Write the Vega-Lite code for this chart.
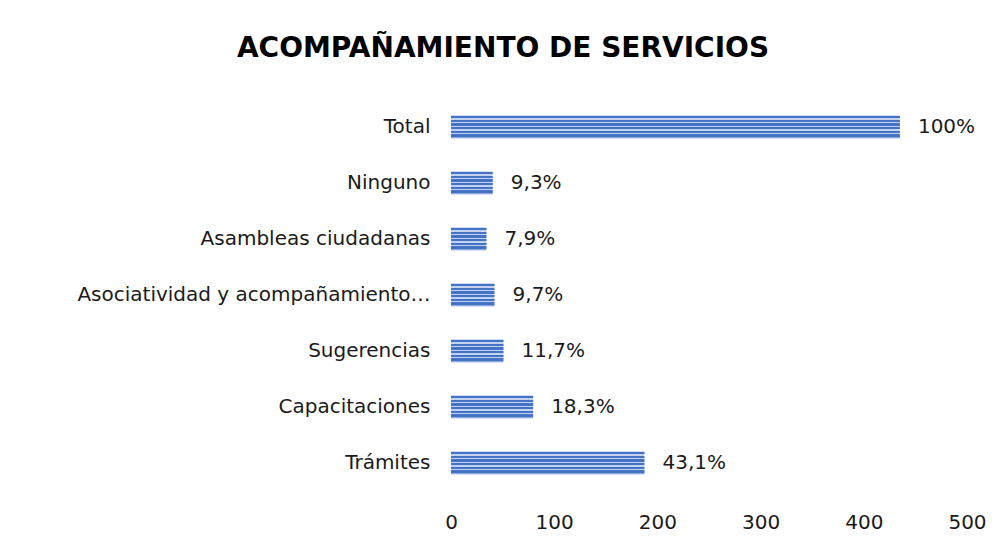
{
  "$schema": "https://vega.github.io/schema/vega-lite/v6.json",
  "width": 516,
  "height": 392,
  "autosize": {"type": "none"},
  "padding": {"left": 451, "top": 99, "right": 27, "bottom": 54},
  "background": "white",
  "title": {
    "text": "ACOMPAÑAMIENTO DE SERVICIOS",
    "font": "DejaVu Sans",
    "fontSize": 28,
    "fontWeight": "bold",
    "color": "#000000",
    "anchor": "middle",
    "frame": "group",
    "dx": -206,
    "offset": 36
  },
  "data": {
    "values": [
      {"categoria": "Total", "valor": 435, "etiqueta": "100%"},
      {"categoria": "Ninguno", "valor": 40.5, "etiqueta": "9,3%"},
      {"categoria": "Asambleas ciudadanas", "valor": 34.4, "etiqueta": "7,9%"},
      {"categoria": "Asociatividad y acompañamiento…", "valor": 42.2, "etiqueta": "9,7%"},
      {"categoria": "Sugerencias", "valor": 50.9, "etiqueta": "11,7%"},
      {"categoria": "Capacitaciones", "valor": 79.6, "etiqueta": "18,3%"},
      {"categoria": "Trámites", "valor": 187.5, "etiqueta": "43,1%"}
    ]
  },
  "encoding": {
    "y": {
      "field": "categoria",
      "type": "nominal",
      "sort": null,
      "scale": {"paddingInner": 0.6, "paddingOuter": 0.3},
      "axis": {
        "title": null,
        "ticks": false,
        "domain": false,
        "labelPadding": 21,
        "labelFont": "DejaVu Sans",
        "labelFontSize": 20,
        "labelColor": "#1a1a1a",
        "labelLimit": 440
      }
    },
    "x": {
      "field": "valor",
      "type": "quantitative",
      "scale": {"domain": [0, 500]},
      "axis": {
        "title": null,
        "values": [0, 100, 200, 300, 400, 500],
        "ticks": false,
        "domain": false,
        "grid": false,
        "labelFlush": false,
        "labelPadding": 21,
        "labelFont": "DejaVu Sans",
        "labelFontSize": 20,
        "labelColor": "#1a1a1a"
      }
    }
  },
  "layer": [
    {
      "mark": {
        "type": "bar",
        "color": {
          "gradient": "linear",
          "x1": 0, "y1": 0, "x2": 0, "y2": 1,
          "stops": [
            {"offset": 0, "color": "#4472c4"},
            {"offset": 0.1, "color": "#4472c4"},
            {"offset": 0.1, "color": "#c3d2ee"},
            {"offset": 0.1667, "color": "#c3d2ee"},
            {"offset": 0.1667, "color": "#4472c4"},
            {"offset": 0.2667, "color": "#4472c4"},
            {"offset": 0.2667, "color": "#c3d2ee"},
            {"offset": 0.3333, "color": "#c3d2ee"},
            {"offset": 0.3333, "color": "#4472c4"},
            {"offset": 0.4333, "color": "#4472c4"},
            {"offset": 0.4333, "color": "#c3d2ee"},
            {"offset": 0.5, "color": "#c3d2ee"},
            {"offset": 0.5, "color": "#4472c4"},
            {"offset": 0.6, "color": "#4472c4"},
            {"offset": 0.6, "color": "#c3d2ee"},
            {"offset": 0.6667, "color": "#c3d2ee"},
            {"offset": 0.6667, "color": "#4472c4"},
            {"offset": 0.7667, "color": "#4472c4"},
            {"offset": 0.7667, "color": "#c3d2ee"},
            {"offset": 0.8333, "color": "#c3d2ee"},
            {"offset": 0.8333, "color": "#4472c4"},
            {"offset": 0.9333, "color": "#4472c4"},
            {"offset": 0.9333, "color": "#c3d2ee"},
            {"offset": 1, "color": "#5b84cc"}
          ]
        }
      }
    },
    {
      "mark": {
        "type": "text",
        "align": "left",
        "baseline": "middle",
        "dx": 18,
        "font": "DejaVu Sans",
        "fontSize": 20,
        "color": "#1a1a1a"
      },
      "encoding": {
        "text": {"field": "etiqueta", "type": "nominal"}
      }
    }
  ],
  "config": {
    "view": {"stroke": null}
  }
}
